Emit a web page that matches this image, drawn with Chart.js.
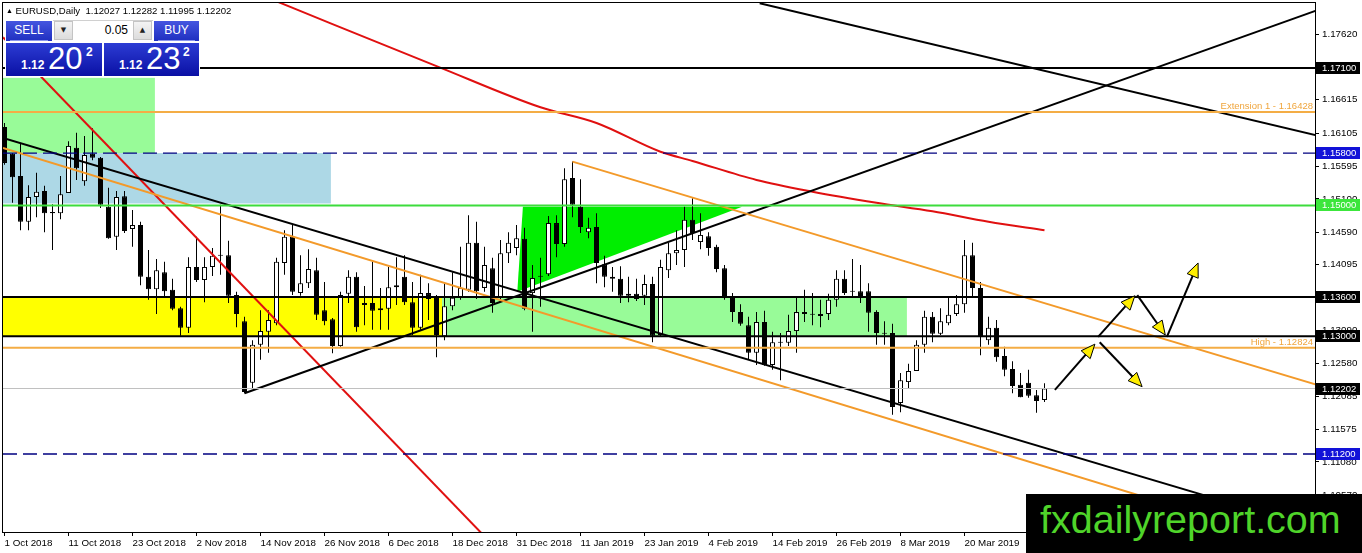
<!DOCTYPE html>
<html>
<head>
<meta charset="utf-8">
<title>EURUSD Daily</title>
<script src="https://cdn.jsdelivr.net/npm/chart.js@4.4.1/dist/chart.umd.min.js"></script>
<style>
  html, body { margin: 0; padding: 0; background: #fff; }
  #wrap { position: relative; width: 1362px; height: 553px; overflow: hidden; }
  #chart { position: absolute; left: 0; top: 0; }
  .abs { position: absolute; }
  .hdr { left: 6px; top: 5px; font: 9.6px "Liberation Sans", sans-serif; color: #000; white-space: pre; }
  .hdr .tri { font-size: 7px; vertical-align: 1px; }
  #panel { left: 5px; top: 19px; width: 195px; height: 58px; background: #fff; }
  .btn { top: 21px; height: 20px; background: linear-gradient(#4556e0, #1f2fc0); color: #fff;
         font: 12px "Liberation Sans", sans-serif; text-align: center; line-height: 19px; }
  .btn i { position: absolute; left: 4px; right: 4px; bottom: 0; height: 1px; background: #8a96ee; }
  #lot { left: 53px; top: 20px; width: 100px; height: 21px; background: #fff; border-top: 1px solid #d0d0d0; box-sizing: border-box; }
  .arr { top: 21px; width: 19px; height: 19px; background: linear-gradient(#f4f4f4, #dcdcdc); border: 1px solid #c4c4c4;
         box-sizing: border-box; font: 7px "DejaVu Sans", sans-serif; text-align: center; line-height: 17px; color: #222; }
  #lotval { left: 74px; top: 23px; width: 54px; text-align: right; font: 12px "Liberation Sans", sans-serif; color: #000; }
  .pxbox { top: 43px; height: 33px; background: linear-gradient(#2c3cd4, #0a10a4); color: #fff; font-family: "Liberation Sans", sans-serif; }
  .pxbox span { position: absolute; line-height: 1; white-space: pre; }
  .small { font-size: 12px; font-weight: bold; top: 16px; }
  .big { font-size: 31px; top: 0px; }
  .sup { font-size: 12px; font-weight: bold; top: 3px; }
  #mark { left: 1026px; top: 494px; width: 336px; height: 59px; background: #000; color: #4fd42a;
          font: 39.5px "Liberation Sans", sans-serif; line-height: 39px; padding: 6px 0 0 14px; box-sizing: border-box; white-space: pre; }
</style>
</head>
<body>
<div id="wrap">
  <canvas id="chart" width="1362" height="553"></canvas>
  <div class="abs hdr"><span class="tri">&#9650;</span> EURUSD,Daily  1.12027 1.12282 1.11995 1.12202</div>
  <div id="panel" class="abs"></div>
  <div class="abs btn" style="left:6px;width:46px;">SELL<i></i></div>
  <div id="lot" class="abs"></div>
  <div class="abs arr" style="left:54px;">&#9660;</div>
  <div id="lotval" class="abs">0.05</div>
  <div class="abs arr" style="left:133px;">&#9650;</div>
  <div class="abs btn" style="left:154px;width:45px;">BUY<i></i></div>
  <div class="abs pxbox" style="left:6px;width:96px;">
    <span class="small" style="left:15px;">1.12</span><span class="big" style="left:42px;">20</span><span class="sup" style="left:80px;">2</span>
  </div>
  <div class="abs pxbox" style="left:104px;width:95px;">
    <span class="small" style="left:15px;">1.12</span><span class="big" style="left:42px;">23</span><span class="sup" style="left:79px;">2</span>
  </div>
  <div id="mark" class="abs">fxdailyreport.com</div>
</div>
<script>
// daily EURUSD bars, index 0 = 1 Oct 2018, weekdays only
const open = [
  1.1620, 1.1579, 1.1545, 1.1475, 1.1513, 1.1522, 1.1490, 1.1488, 1.1519, 1.1588,
  1.1537, 1.1579, 1.1573, 1.1498, 1.1452, 1.1514, 1.1464, 1.1470, 1.1391, 1.1372,
  1.1398, 1.1371, 1.1343, 1.1313, 1.1406, 1.1386, 1.1406, 1.1424, 1.1424, 1.1363,
  1.1323, 1.1229, 1.1287, 1.1307, 1.1320, 1.1412, 1.1452, 1.1366, 1.1381, 1.1401,
  1.1340, 1.1326, 1.1285, 1.1365, 1.1391, 1.1348, 1.1351, 1.1343, 1.1342, 1.1375,
  1.1391, 1.1352, 1.1313, 1.1366, 1.1360, 1.1300, 1.1346, 1.1360, 1.1371, 1.1443,
  1.1374, 1.1404, 1.1360, 1.1427, 1.1435, 1.1449, 1.1366, 1.1392, 1.1395, 1.1473,
  1.1441, 1.1542, 1.1498, 1.1459, 1.1467, 1.1410, 1.1391, 1.1388, 1.1362, 1.1365,
  1.1362, 1.1380, 1.1302, 1.1401, 1.1427, 1.1432, 1.1478, 1.1444, 1.1453, 1.1437,
  1.1404, 1.1360, 1.1337, 1.1317, 1.1275, 1.1322, 1.1256, 1.1291, 1.1290, 1.1308,
  1.1337, 1.1334, 1.1334, 1.1334, 1.1356, 1.1388, 1.1369, 1.1369, 1.1369, 1.1337,
  1.1305, 1.1305, 1.1198, 1.1230, 1.1247, 1.1287, 1.1330, 1.1304, 1.1320, 1.1334,
  1.1349, 1.1424, 1.1374, 1.1294, 1.1313, 1.1270, 1.1250, 1.1226, 1.1229, 1.1210,
  1.12027
];
const high = [
  1.1626, 1.1580, 1.1594, 1.1531, 1.1550, 1.1530, 1.1502, 1.1545, 1.1598, 1.1611,
  1.1606, 1.1618, 1.1574, 1.1527, 1.1522, 1.1522, 1.1493, 1.1475, 1.1432, 1.1418,
  1.1414, 1.1388, 1.1345, 1.1421, 1.1452, 1.1421, 1.1435, 1.1501, 1.1446, 1.1368,
  1.1330, 1.1294, 1.1340, 1.1340, 1.1420, 1.1462, 1.1470, 1.1424, 1.1433, 1.1420,
  1.1383, 1.1328, 1.1368, 1.1401, 1.1398, 1.1377, 1.1414, 1.1374, 1.1406, 1.1421,
  1.1424, 1.1383, 1.1394, 1.1381, 1.1363, 1.1381, 1.1398, 1.1437, 1.1485, 1.1475,
  1.1437, 1.1420, 1.1447, 1.1459, 1.1470, 1.1466, 1.1409, 1.1420, 1.1484, 1.1485,
  1.1557, 1.1567, 1.1540, 1.1481, 1.1488, 1.1423, 1.1406, 1.1407, 1.1391, 1.1388,
  1.1394, 1.1391, 1.1417, 1.1443, 1.1462, 1.1498, 1.1511, 1.1488, 1.1459, 1.1440,
  1.1409, 1.1366, 1.1349, 1.1330, 1.1337, 1.1339, 1.1307, 1.1305, 1.1333, 1.1360,
  1.1371, 1.1366, 1.1356, 1.1365, 1.1401, 1.1401, 1.1418, 1.1409, 1.1381, 1.1340,
  1.1323, 1.1319, 1.1244, 1.1258, 1.1294, 1.1339, 1.1337, 1.1343, 1.1359, 1.1363,
  1.1447, 1.1443, 1.1383, 1.1330, 1.1325, 1.1284, 1.1262, 1.1244, 1.1249, 1.1218,
  1.12282
];
const low = [
  1.1562, 1.1504, 1.1462, 1.1462, 1.1482, 1.1459, 1.1432, 1.1479, 1.1519, 1.1539,
  1.1530, 1.1569, 1.1496, 1.1449, 1.1432, 1.1458, 1.1437, 1.1378, 1.1356, 1.1334,
  1.1360, 1.1340, 1.1301, 1.1305, 1.1383, 1.1352, 1.1392, 1.1394, 1.1351, 1.1314,
  1.1213, 1.1221, 1.1264, 1.1275, 1.1317, 1.1394, 1.1363, 1.1362, 1.1374, 1.1325,
  1.1317, 1.1274, 1.1284, 1.1351, 1.1307, 1.1317, 1.1310, 1.1310, 1.1310, 1.1348,
  1.1348, 1.1302, 1.1310, 1.1325, 1.1268, 1.1294, 1.1340, 1.1356, 1.1368, 1.1357,
  1.1368, 1.1336, 1.1356, 1.1412, 1.1424, 1.1340, 1.1307, 1.1345, 1.1392, 1.1421,
  1.1437, 1.1482, 1.1458, 1.1450, 1.1381, 1.1375, 1.1368, 1.1351, 1.1352, 1.1354,
  1.1348, 1.1291, 1.1299, 1.1389, 1.1409, 1.1406, 1.1447, 1.1433, 1.1423, 1.1398,
  1.1356, 1.1322, 1.1316, 1.1265, 1.1256, 1.1255, 1.1249, 1.1233, 1.1285, 1.1275,
  1.1322, 1.1317, 1.1314, 1.1325, 1.1345, 1.1363, 1.1360, 1.1351, 1.1307, 1.1287,
  1.1287, 1.1180, 1.1184, 1.1221, 1.1247, 1.1275, 1.1291, 1.1302, 1.1317, 1.1331,
  1.1336, 1.1359, 1.1271, 1.1287, 1.1261, 1.1239, 1.1213, 1.1207, 1.1206, 1.1183,
  1.11995
];
const close = [
  1.1565, 1.1543, 1.1475, 1.1513, 1.1521, 1.1488, 1.1488, 1.1517, 1.1591, 1.1557,
  1.1577, 1.1573, 1.1501, 1.1450, 1.1513, 1.1461, 1.1470, 1.1391, 1.1372, 1.1401,
  1.1369, 1.1342, 1.1313, 1.1406, 1.1386, 1.1406, 1.1423, 1.1423, 1.1362, 1.1334,
  1.1215, 1.1287, 1.1308, 1.1325, 1.1414, 1.1452, 1.1368, 1.1381, 1.1403, 1.1333,
  1.1323, 1.1285, 1.1363, 1.1391, 1.1314, 1.1351, 1.1339, 1.1340, 1.1375, 1.1378,
  1.1352, 1.1313, 1.1366, 1.1357, 1.1302, 1.1346, 1.1359, 1.1374, 1.1443, 1.1369,
  1.1409, 1.1351, 1.1427, 1.1443, 1.1450, 1.1342, 1.1389, 1.1391, 1.1473, 1.1441,
  1.1540, 1.1501, 1.1467, 1.1466, 1.1412, 1.1391, 1.1388, 1.1362, 1.1365, 1.1357,
  1.1380, 1.1301, 1.1406, 1.1427, 1.1432, 1.1478, 1.1458, 1.1455, 1.1435, 1.1403,
  1.1359, 1.1337, 1.1319, 1.1275, 1.1322, 1.1256, 1.1291, 1.1290, 1.1308, 1.1337,
  1.1334, 1.1333, 1.1331, 1.1356, 1.1388, 1.1366, 1.1368, 1.1360, 1.1336, 1.1305,
  1.1304, 1.1192, 1.1233, 1.1247, 1.1287, 1.1330, 1.1304, 1.1323, 1.1333, 1.1349,
  1.1424, 1.1374, 1.1299, 1.1313, 1.1268, 1.1249, 1.1224, 1.1207, 1.1209, 1.1201,
  1.12202
];

// time axis: a label every 8 bars
const dateTickIdx = [0, 8, 16, 24, 32, 40, 48, 56, 64, 72, 80, 88, 96, 104, 112, 120];
const dateLabels = ['1 Oct 2018', '11 Oct 2018', '23 Oct 2018', '2 Nov 2018', '14 Nov 2018', '26 Nov 2018',
  '6 Dec 2018', '18 Dec 2018', '31 Dec 2018', '11 Jan 2019', '23 Jan 2019', '4 Feb 2019',
  '14 Feb 2019', '26 Feb 2019', '8 Mar 2019', '20 Mar 2019'];
const priceTicks = [1.17620, 1.17110, 1.16615, 1.16105, 1.15595, 1.15100, 1.14590, 1.14095,
  1.13585, 1.13090, 1.12580, 1.12085, 1.11575, 1.11080, 1.10570];

// visible window
const xMin = -0.1875, xMax = 163.8125;
const yMin = 1.10009, yMax = 1.18094;

// horizontal levels
const blackLevels = [1.17100, 1.13600, 1.13000];
const greenLevels = [1.15000];
const orangeLevels = [1.16428, 1.12824];
const dashedLevels = [1.15800, 1.11200];
const bidLevel = 1.12202;
const noteLevels = [1.16428, 1.12824];
const noteTexts = ['Extension 1 - 1.16428', 'High - 1.12824'];
const axisMarks = [1.17100, 1.15800, 1.15000, 1.13600, 1.13000, 1.12202, 1.11200];

// trend lines, [bar, price]
const blackDown = [[-0.19, 1.1603], [164, 1.1006]];
const orangeDown = [[-0.19, 1.1588], [164, 1.0974]];
const blackUp = [[30, 1.1213], [164, 1.1798]];
const blackTop = [[94.4, 1.1809], [164, 1.1607]];
const orangeUpper = [[71, 1.1567], [164, 1.1226]];
const redSteep = [[-0.19, 1.1757], [62, 1.0969]];
const maIdx = [34, 41, 54, 67, 74, 82, 86, 94, 101, 109, 116, 123, 130];
const maVal = [1.1812, 1.1777, 1.1713, 1.1650, 1.1626, 1.1582, 1.1568, 1.1539, 1.1521, 1.1504, 1.1491, 1.1475, 1.1462];

// zones: two corners [bar, price]
const greenZone = [[-0.19, 1.1695], [18.8, 1.1580]];
const blueZone = [[-0.19, 1.1580], [40.8, 1.1503]];
const yellowZone = [[-0.19, 1.1360], [54.7, 1.1300]];
const paleZone = [[54.7, 1.1360], [112.8, 1.1300]];
const triangleZone = [[64.8, 1.1498], [92.2, 1.1498], [64.1, 1.1368]];

// forecast arrows
const arrowPaths = [
  [[131.3, 1.1218], [136.3, 1.1288]],
  [[136.9, 1.1291], [142.2, 1.1223]],
  [[136.7, 1.1299], [141.3, 1.1362]],
  [[141.6, 1.1363], [145.1, 1.1302]],
  [[145.3, 1.1299], [149.2, 1.1412]]
];

const FONT = 'Liberation Sans';

const flat = v => [{x: xMin, y: v}, {x: xMax, y: v}];
const path = pts => pts.map(([x, y]) => ({x, y}));
const lineDs = (data, color, width, dash) => ({
  type: 'line', data, borderColor: color, borderWidth: width, borderDash: dash || [],
  pointRadius: 0, fill: false, tension: 0, order: 1
});

const zonePlugin = {
  id: 'zones',
  beforeDatasetsDraw(chart) {
    const {ctx, chartArea: a, scales: {x, y}} = chart;
    ctx.save();
    ctx.beginPath();
    ctx.rect(a.left, a.top, a.width, a.height);
    ctx.clip();
    const box = (z, color) => {
      const x0 = x.getPixelForValue(z[0][0]), x1 = x.getPixelForValue(z[1][0]);
      const y0 = y.getPixelForValue(z[0][1]), y1 = y.getPixelForValue(z[1][1]);
      ctx.fillStyle = color;
      ctx.fillRect(x0, y0, x1 - x0, y1 - y0);
    };
    box(greenZone, '#98fb98');
    box(blueZone, '#add8e6');
    box(yellowZone, '#ffff00');
    box(paleZone, '#98fb98');
    ctx.beginPath();
    triangleZone.forEach(([i, p], k) => {
      const px = x.getPixelForValue(i), py = y.getPixelForValue(p);
      if (k) ctx.lineTo(px, py); else ctx.moveTo(px, py);
    });
    ctx.closePath();
    ctx.fillStyle = '#00ee00';
    ctx.fill();
    ctx.restore();
  }
};

const overlayPlugin = {
  id: 'overlay',
  afterDatasetsDraw(chart) {
    const {ctx, chartArea: a, scales: {x, y}} = chart;
    ctx.save();
    ctx.beginPath();
    ctx.rect(a.left, a.top, a.width, a.height);
    ctx.clip();

    // arrows
    arrowPaths.forEach(([[i0, p0], [i1, p1]]) => {
      const x0 = x.getPixelForValue(i0), y0 = y.getPixelForValue(p0);
      const x1 = x.getPixelForValue(i1), y1 = y.getPixelForValue(p1);
      const ang = Math.atan2(y1 - y0, x1 - x0);
      const L = 14, W = 6;
      const bx = x1 - L * Math.cos(ang), by = y1 - L * Math.sin(ang);
      ctx.strokeStyle = '#000';
      ctx.lineWidth = 2;
      ctx.beginPath();
      ctx.moveTo(x0, y0);
      ctx.lineTo(bx, by);
      ctx.stroke();
      ctx.beginPath();
      ctx.moveTo(x1, y1);
      ctx.lineTo(bx + W * Math.sin(ang), by - W * Math.cos(ang));
      ctx.lineTo(bx - W * Math.sin(ang), by + W * Math.cos(ang));
      ctx.closePath();
      ctx.fillStyle = '#ffee00';
      ctx.fill();
      ctx.lineWidth = 1;
      ctx.stroke();
    });

    // level captions
    ctx.font = '9.5px "' + FONT + '"';
    ctx.fillStyle = '#f0a53c';
    ctx.textAlign = 'right';
    ctx.textBaseline = 'alphabetic';
    noteLevels.forEach((v, k) => {
      ctx.fillText(noteTexts[k], a.right - 2, y.getPixelForValue(v) - 3);
    });
    ctx.restore();

    // frame
    ctx.save();
    ctx.strokeStyle = '#000';
    ctx.lineWidth = 1;
    ctx.strokeRect(a.left - 0.5, a.top - 0.5, a.width + 1, a.height + 1);
    ctx.restore();
  },
  afterDraw(chart) {
    const {ctx, chartArea: a, scales: {y}} = chart;
    const colors = ['#000', '#1212d8', '#3ce63c', '#000', '#000', '#000', '#1212d8'];
    ctx.save();
    ctx.font = '9.5px "' + FONT + '"';
    ctx.textAlign = 'left';
    ctx.textBaseline = 'middle';
    axisMarks.forEach((v, k) => {
      const py = Math.round(y.getPixelForValue(v));
      ctx.fillStyle = colors[k];
      ctx.fillRect(a.right + 1, py - 6, 44, 12);
      ctx.fillStyle = '#fff';
      ctx.fillText(v.toFixed(5), a.right + 7, py + 0.5);
    });
    ctx.restore();
  }
};

const maDs = lineDs(maIdx.map((i, k) => ({x: i, y: maVal[k]})), '#e01010', 2);
maDs.cubicInterpolationMode = 'monotone';

const datasets = [
  lineDs(flat(bidLevel), '#c0c0c0', 1),
  ...dashedLevels.map(v => lineDs(flat(v), '#000080', 1.4, [14, 6])),
  ...orangeLevels.map(v => lineDs(flat(v), '#f4ad45', 2)),
  ...greenLevels.map(v => lineDs(flat(v), '#3cdc3c', 2)),
  ...blackLevels.map(v => lineDs(flat(v), '#000', 2)),
  lineDs(path(orangeDown), '#f39a2a', 2),
  lineDs(path(orangeUpper), '#f39a2a', 2),
  lineDs(path(blackDown), '#000', 2),
  lineDs(path(blackUp), '#000', 2),
  lineDs(path(blackTop), '#000', 2),
  lineDs(path(redSteep), '#e01010', 2),
  maDs,
  {
    type: 'bar',
    data: open.map((o, i) => ({x: i, y: [o, close[i]]})),
    backgroundColor: c => close[c.dataIndex] >= open[c.dataIndex] ? '#fff' : '#000',
    borderColor: '#000', borderWidth: 1, borderSkipped: false,
    barThickness: 5, minBarLength: 1, grouped: false, inflateAmount: 0, order: 2
  },
  {
    type: 'bar',
    data: high.map((h, i) => ({x: i, y: [low[i], h]})),
    backgroundColor: '#000', borderWidth: 0,
    barThickness: 1, grouped: false, inflateAmount: 0, order: 3
  }
];

new Chart(document.getElementById('chart'), {
  type: 'line',
  data: { datasets },
  options: {
    responsive: false,
    animation: false,
    events: [],
    layout: { padding: { left: 3, top: 3, right: 0, bottom: 0 } },
    plugins: { legend: { display: false }, tooltip: { enabled: false } },
    scales: {
      x: {
        type: 'linear', min: xMin, max: xMax, offset: false,
        grid: { drawOnChartArea: false, drawTicks: true, tickLength: 4, color: '#000', offset: false },
        border: { display: false },
        afterFit: s => { s.height = 21; s.paddingLeft = 0; s.paddingRight = 0; },
        afterBuildTicks: s => { s.ticks = dateTickIdx.map(v => ({value: v})); },
        ticks: {
          autoSkip: false, maxRotation: 0, align: 'start', padding: 1, color: '#000',
          font: { family: FONT, size: 9.8 },
          callback: (v, i) => dateLabels[i]
        }
      },
      y: {
        type: 'linear', position: 'right', min: yMin, max: yMax,
        grid: { drawOnChartArea: false, drawTicks: true, tickLength: 4, color: '#000' },
        border: { display: false },
        afterFit: s => { s.width = 47; s.paddingTop = 0; s.paddingBottom = 0; },
        afterBuildTicks: s => { s.ticks = priceTicks.map(v => ({value: v})); },
        ticks: {
          autoSkip: false, padding: 3, color: '#000',
          font: { family: FONT, size: 9.8 },
          callback: v => v.toFixed(5)
        }
      }
    }
  },
  plugins: [zonePlugin, overlayPlugin]
});
</script>
</body>
</html>
